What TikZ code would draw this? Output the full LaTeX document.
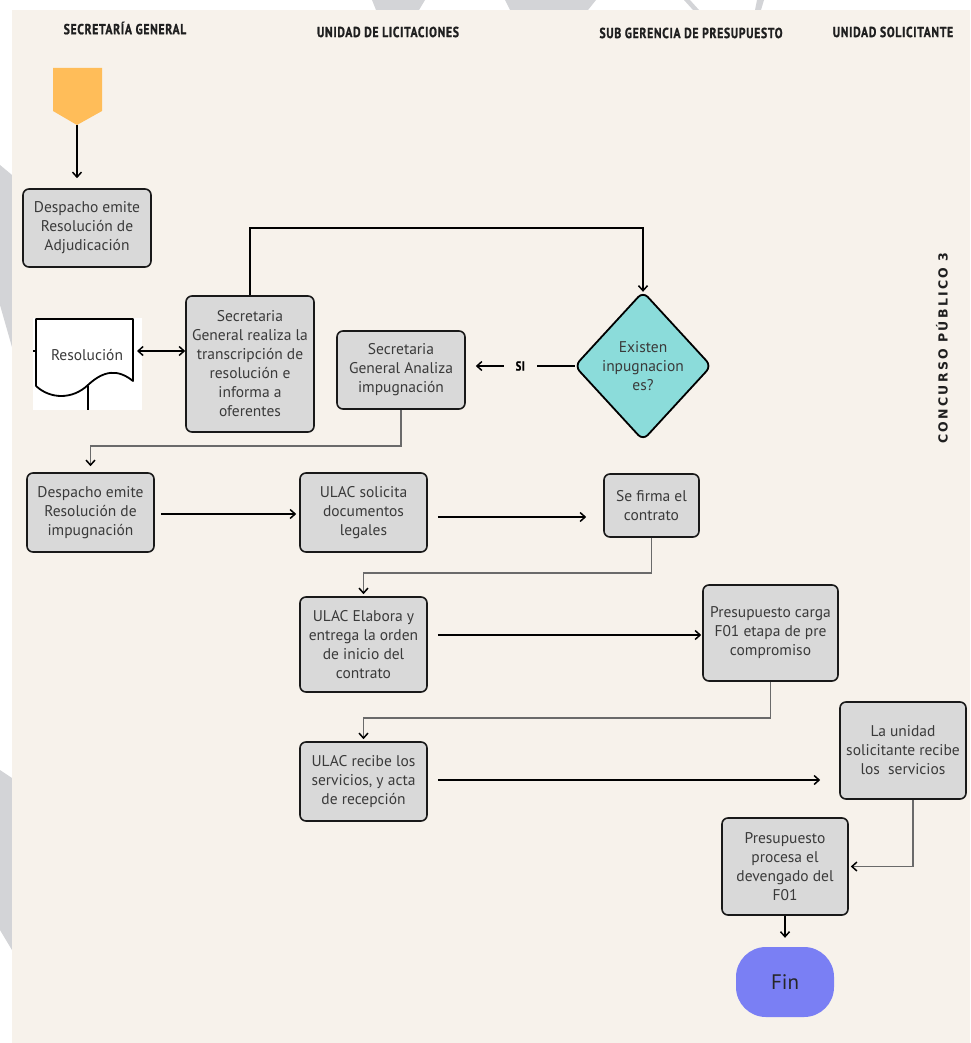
\documentclass[tikz,border=0pt]{standalone}
\usepackage{fontspec}
\setmainfont{PT Sans}
\newfontfamily\headfont[LetterSpace=5,FakeStretch=0.8,FakeBold=1.2]{PT Sans Bold}
\newfontfamily\sidefont[LetterSpace=18]{DejaVu Sans Bold}
\usetikzlibrary{arrows.meta,shapes.geometric,calc}

\definecolor{paper}{HTML}{F7F2EB}
\definecolor{shadegray}{HTML}{D3D4D7}
\definecolor{boxgray}{HTML}{D9D9D9}
\definecolor{boxtext}{HTML}{3A3A3A}
\definecolor{startorange}{HTML}{FFBD59}
\definecolor{decision}{HTML}{8BDCDA}
\definecolor{finblue}{HTML}{7A7FF4}
\definecolor{elbow}{HTML}{6A6A6A}

\tikzset{
  stepbox/.style={draw=black!90, line width=1.6pt, fill=boxgray, rounded corners=6pt,
    align=center, text=boxtext, inner sep=2pt,
    font=\fontsize{15.5}{19}\selectfont},
  lanehead/.style={font=\headfont\fontsize{14.5}{15}\selectfont, text=black!88},
  tip/.style={-{Straight Barb[length=5pt,width=9pt,line width=1.5pt]}},
  flow/.style={tip, line width=1.8pt, black},
  back/.style={-{Straight Barb[length=5pt,width=9pt,line width=1.5pt,black]}, line width=1.4pt, elbow},
}

\begin{document}
\begin{tikzpicture}[x=1pt,y=-1pt]
% page and panel
\fill[white] (0,0) rectangle (970,1043);
\useasboundingbox (0,0) rectangle (970,1043);
% faint background marks around the panel
\fill[shadegray] (372,0) -- (425,0) -- (419,10) -- (376,10) -- cycle;
\fill[shadegray] (505,0) -- (596,0) -- (588,10) -- (510,10) -- cycle;
\fill[shadegray] (684,0) -- (690,0) -- (699,10) -- (693,10) -- cycle;
\fill[shadegray] (757,0) -- (764,0) -- (761,10) -- (755,10) -- cycle;
\fill[shadegray] (0,165) -- (12,175) -- (12,347) -- (0,305) -- cycle;
\fill[shadegray] (0,770) -- (12,778) -- (12,950) -- (0,930) -- cycle;
\fill[paper] (12,10) rectangle (970,1043);

% lane headings
\node[lanehead] (h1) at (125,28) {SECRETARÍA GENERAL};
\node[lanehead] (h2) at (388,32) {UNIDAD DE LICITACIONES};
\node[lanehead] (h3) at (691,33) {SUB GERENCIA DE PRESUPUESTO};
\node[lanehead] (h4) at (893,32) {UNIDAD SOLICITANTE};
\node[rotate=90, font=\sidefont\fontsize{12.5}{13}\selectfont, text=black!88] (side) at (942,348) {CONCURSO PÚBLICO 3};

% start marker
\fill[startorange] (53,68) -- (102,68) -- (102,111) -- (77,125) -- (53,111) -- cycle;
\coordinate (start) at (77,125);

% process steps
\node[stepbox, minimum width=128pt, minimum height=78pt] (b1) at (87,228) {Despacho emite\\Resolución de\\Adjudicación};
\node[stepbox, minimum width=128pt, minimum height=136pt] (b2) at (250,364) {Secretaria\\General realiza la\\transcripción de\\resolución e\\informa a\\oferentes};
\node[stepbox, minimum width=128pt, minimum height=78pt] (b3) at (401,370) {Secretaria\\General Analiza\\impugnación};
\node[stepbox, minimum width=127pt, minimum height=79pt] (b4) at (90.5,512.5) {Despacho emite\\Resolución de\\impugnación};
\node[stepbox, minimum width=127pt, minimum height=79pt] (b5) at (363.5,512.5) {ULAC solicita\\documentos\\legales};
\node[stepbox, minimum width=95pt, minimum height=63pt] (b6) at (651.5,505.5) {Se firma el\\contrato};
\node[stepbox, minimum width=127pt, minimum height=95pt] (b7) at (363.5,644.5) {ULAC Elabora y\\entrega la orden\\de inicio del\\contrato};
\node[stepbox, minimum width=135pt, minimum height=96pt] (b8) at (770.5,633) {Presupuesto carga\\F01 etapa de pre\\compromiso};
\node[stepbox, minimum width=127pt, minimum height=79pt] (b9) at (363.5,781.5) {ULAC recibe los\\servicios, y acta\\de recepción};
\node[stepbox, minimum width=126pt, minimum height=97pt] (b10) at (903,750.5) {La unidad\\solicitante recibe\\los~~servicios};
\node[stepbox, minimum width=126pt, minimum height=97pt] (b11) at (785,866.5) {Presupuesto\\procesa el\\devengado del\\F01};

% document symbol
\node[fill=white, minimum width=109pt, minimum height=92pt, inner sep=0pt] (doc) at (87.5,364) {};
\draw[line width=1.8pt, line join=round] (36,386) -- (36,319) -- (133,319) -- (133,381)
  .. controls (118,369) and (104,370) .. (88,385)
  .. controls (72,400) and (50,399) .. (36,386);
\draw[line width=1.8pt] (88,386) -- (88,410);
\draw[line width=2.2pt] (33,351) -- (37,351);
\node[font=\fontsize{15.5}{19}\selectfont, text=boxtext] (doctext) at (87,355) {Resolución};

% decision
\node[minimum width=136pt, minimum height=148pt, inner sep=0pt] (dia) at (643,366) {};
\draw[line width=1.8pt, fill=decision, rounded corners=7pt]
  (dia.north) -- (dia.east) -- (dia.south) -- (dia.west) -- cycle;
\node[align=center, text=boxtext, font=\fontsize{15.5}{19}\selectfont] (diatext) at (dia.center) {Existen\\inpugnacion\\es?};

% end
\node[fill=finblue, minimum width=98pt, minimum height=70pt, rounded corners=30pt,
  font=\fontsize{21}{24}\selectfont, text=black!85] (fin) at (785,982) {Fin};

% connectors
\draw[flow, line width=1.6pt, shorten >=10pt] (start) -- (start |- b1.north);
\draw[{Straight Barb[length=5pt,width=9pt,line width=1.5pt]}-{Straight Barb[length=5pt,width=9pt,line width=1.5pt]}, line width=1.8pt]
  (137,351) -- (b2.west |- 0,351);
\draw[tip, line width=1.3pt, black] (b2.north) -- (b2.north |- 0,228) -| (dia.north);
\draw[flow, shorten >=10pt] (dia.west) -- node[fill=paper, inner xsep=12pt, inner ysep=3pt, font=\headfont\fontsize{13}{14}\selectfont] (si) {SI} (dia.west -| b3.east);
\draw[back, shorten >=6pt] (b3.south) -- (b3.south |- 0,446) -| (b4.north);
\draw[flow, shorten <=6pt, shorten >=3pt] (b4.east |- 0,514) -- (b5.west |- 0,514);
\draw[flow, shorten <=10pt, shorten >=17pt] (b5.east |- 0,517) -- (b6.west |- 0,517);
\draw[back, shorten >=2pt] (b6.south) -- (b6.south |- 0,573) -| (b7.north);
\draw[flow, shorten <=10pt, shorten >=1pt] (b7.east |- 0,635) -- (b8.west |- 0,635);
\draw[back, shorten >=2pt] (b8.south) -- (b8.south |- 0,718) -| (b9.north);
\draw[flow, shorten <=10pt, shorten >=19pt] (b9.east |- 0,780) -- (b10.west |- 0,780);
\draw[back, shorten >=2pt] ([xshift=10pt]b10.south) |- (b11.east);
\draw[flow, shorten >=9pt] (b11.south) -- (fin.north);
\end{tikzpicture}
\end{document}
